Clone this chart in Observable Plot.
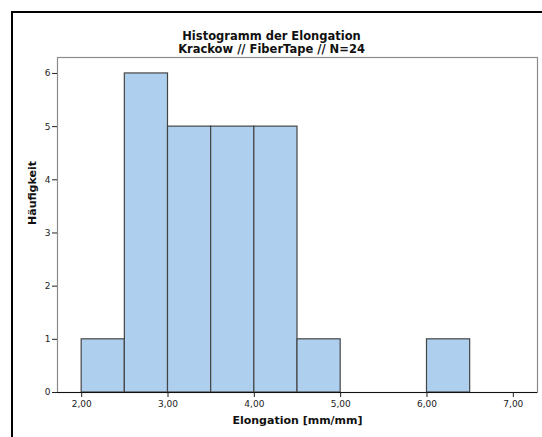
<!DOCTYPE html>
<html>
<head>
<meta charset="utf-8">
<script src="https://cdn.jsdelivr.net/npm/d3@7"></script>
<script src="https://cdn.jsdelivr.net/npm/@observablehq/plot@0.6"></script>
<style>
  html, body { margin: 0; padding: 0; background: #fff; overflow: hidden; }
  #wrap { position: relative; width: 542px; height: 437px; }
  #border { position: absolute; left: 11px; top: 11px; width: 600px; height: 500px;
            border-top: 2px solid #000; border-left: 2px solid #000; }
  #chart { position: absolute; left: 0; top: 0; }
</style>
</head>
<body>
<div id="wrap"><div id="border"></div><div id="chart"></div></div>
<script>
const titleLines = ["Histogramm der Elongation", "Krackow // FiberTape // N=24"];
const xLabel = "Elongation [mm/mm]";
const yLabel = "Häufigkeit";
const binStart = [2.0, 2.5, 3.0, 3.5, 4.0, 4.5, 6.0];
const binEnd   = [2.5, 3.0, 3.5, 4.0, 4.5, 5.0, 6.5];
const counts   = [1, 6, 5, 5, 5, 1, 1];
const xTicks = [2, 3, 4, 5, 6, 7];
const yTicks = [0, 1, 2, 3, 4, 5, 6];

const bins = binStart.map((s, i) => ({x1: s, x2: binEnd[i], count: counts[i]}));
const font = "DejaVu Sans, sans-serif";

const chart = Plot.plot({
  width: 542,
  height: 437,
  marginLeft: 57,
  marginRight: 5,
  marginTop: 57,
  marginBottom: 45,
  style: {fontFamily: font, fontSize: "9px", color: "#222", background: "transparent"},
  x: {domain: [1.72, 7.28]},
  y: {domain: [0, 6.3]},
  marks: [
    Plot.frame({stroke: "#8a8a8a", strokeWidth: 1.2}),
    Plot.rectY(bins, {x1: "x1", x2: "x2", y: "count", fill: "#aed0ee", stroke: "#454545", strokeWidth: 1.2, inset: 0}),
    Plot.ruleY([0], {stroke: "#111", strokeWidth: 1.2}),
    Plot.axisX({ticks: xTicks, tickFormat: d => d.toFixed(2).replace(".", ","), tickSize: 5, tickPadding: 3, label: null, fontSize: 9}),
    Plot.axisY({ticks: yTicks, tickFormat: d => String(d), tickSize: 5, tickPadding: 2, label: null, fontSize: 9}),
    Plot.text([titleLines[0]], {text: d => d, frameAnchor: "top", dx: -26, dy: -26, fontWeight: "bold", fontSize: 11.5, fill: "#111"}),
    Plot.text([titleLines[1]], {text: d => d, frameAnchor: "top", dx: -26, dy: -13, fontWeight: "bold", fontSize: 11.5, fill: "#111"}),
    Plot.text([xLabel], {text: d => d, frameAnchor: "bottom", dy: 31, fontWeight: "bold", fontSize: 11, fill: "#111"}),
    Plot.text([yLabel], {text: d => d, frameAnchor: "left", dx: -25, rotate: -90, fontWeight: "bold", fontSize: 11, fill: "#111"})
  ]
});
document.getElementById("chart").appendChild(chart);
</script>
</body>
</html>
